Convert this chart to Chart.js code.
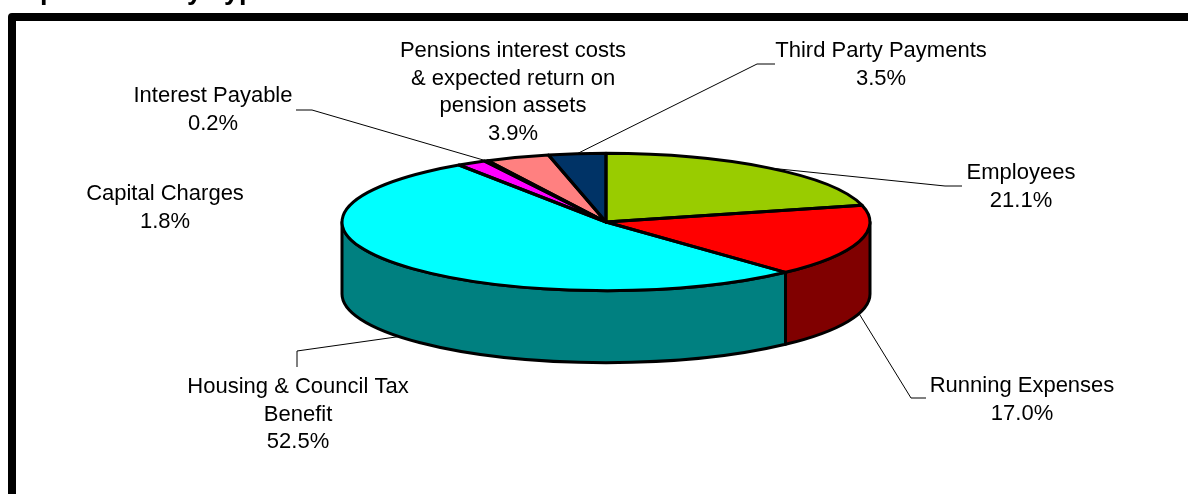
<!DOCTYPE html>
<html>
<head>
<meta charset="utf-8">
<style>
  html, body { margin: 0; padding: 0; background: #fff; overflow: hidden; }
  canvas { display: block; }
</style>
<script src="https://cdn.jsdelivr.net/npm/chart.js@4"></script>
</head>
<body>
<canvas id="pie" width="1188" height="494"></canvas>
<script>
const titleText = 'Expenditure by Type';
const categories = [
  'Employees', 'Running Expenses', 'Housing & Council Tax Benefit', 'Capital Charges',
  'Interest Payable', 'Pensions interest costs & expected return on pension assets',
  'Third Party Payments'
];
const shares = [21.1, 17.0, 52.5, 1.8, 0.2, 3.9, 3.5];

const topColours = ['#99CC00', '#FF0000', '#00FFFF', '#FF00FF', '#FFFF99', '#FF8080', '#003366'];
const wallColours = ['#4C6600', '#800000', '#008080', '#800080', '#808040', '#804040', '#001933'];

// Label placement: wrapped lines, centre x, and the y of each line's baseline.
const labelLines = [
  ['Employees'],
  ['Running Expenses'],
  ['Housing & Council Tax', 'Benefit'],
  ['Capital Charges'],
  ['Interest Payable'],
  ['Pensions interest costs', '& expected return on', 'pension assets'],
  ['Third Party Payments']
];
const labelX = [1021, 1022, 298, 165, 213, 513, 881];
const labelTop = [179, 392, 393, 200, 102, 57, 57];
const lineStep = 27.5;

// Leader elbows: [elbow x, elbow y, end x, end y]; null means the label has no leader.
const leaders = [
  [945, 186, 962, 186],
  [911, 398, 926, 398],
  [297, 351, 297, 367],
  null,
  [312, 110, 296, 110],
  null,
  [757, 64, 775, 64]
];

const PIE_RADIUS = 264;
const SQUASH = 0.26;
const DEPTH = 72;
const OUTLINE = 3;
const FONT = '22px "Liberation Sans", Arial, sans-serif';

const tiltedPie = {
  id: 'tiltedPie',
  beforeDraw(chart) {
    const { ctx } = chart;
    ctx.save();
    // Heavy chart frame, running off the right and bottom of the page.
    ctx.strokeStyle = '#000';
    ctx.lineWidth = 8;
    ctx.lineJoin = 'round';
    ctx.strokeRect(12, 17, 1300, 700);
    ctx.fillStyle = '#000';
    ctx.font = 'bold 27px "Liberation Sans", Arial, sans-serif';
    ctx.textAlign = 'left';
    ctx.textBaseline = 'alphabetic';
    ctx.fillText(titleText, 7, -1);
    ctx.restore();
  },
  beforeDatasetsDraw(chart) {
    const { ctx } = chart;
    const arcs = chart.getDatasetMeta(0).data;
    ctx.save();
    ctx.lineWidth = OUTLINE;
    ctx.strokeStyle = '#000';
    ctx.lineJoin = 'round';
    arcs.forEach((arc, i) => {
      const from = Math.max(arc.startAngle, 0);
      const to = Math.min(arc.endAngle, Math.PI);
      if (to <= from) return;
      const ry = arc.outerRadius * SQUASH;
      ctx.beginPath();
      ctx.ellipse(arc.x, arc.y, arc.outerRadius, ry, 0, from, to);
      ctx.ellipse(arc.x, arc.y + DEPTH, arc.outerRadius, ry, 0, to, from, true);
      ctx.closePath();
      ctx.fillStyle = wallColours[i];
      ctx.fill();
      ctx.stroke();
    });
    ctx.restore();

    // The library's arcs are painted through a vertical squash about the pie centre.
    const { x, y } = arcs[0];
    ctx.save();
    ctx.translate(x, y);
    ctx.scale(1, SQUASH);
    ctx.translate(-x, -y);
  },
  afterDatasetsDraw(chart) {
    const { ctx } = chart;
    ctx.restore();
    const arcs = chart.getDatasetMeta(0).data;

    // Slice outlines are stroked unsquashed so the pen width stays even.
    ctx.save();
    ctx.lineWidth = OUTLINE;
    ctx.strokeStyle = '#000';
    ctx.lineJoin = 'round';
    arcs.forEach((arc) => {
      const ry = arc.outerRadius * SQUASH;
      ctx.beginPath();
      ctx.moveTo(arc.x, arc.y);
      ctx.ellipse(arc.x, arc.y, arc.outerRadius, ry, 0, arc.startAngle, arc.endAngle);
      ctx.closePath();
      ctx.stroke();
    });
    ctx.restore();

    // Leader lines start from the middle of each slice's visible rim.
    ctx.save();
    ctx.lineWidth = 1;
    ctx.strokeStyle = '#000';
    arcs.forEach((arc, i) => {
      const lead = leaders[i];
      if (!lead) return;
      const mid = (arc.startAngle + arc.endAngle) / 2;
      const px = arc.x + arc.outerRadius * Math.cos(mid);
      const sin = Math.sin(mid);
      const py = arc.y + arc.outerRadius * SQUASH * sin + (sin > 0 ? DEPTH : 0);
      ctx.beginPath();
      ctx.moveTo(px, py);
      ctx.lineTo(lead[0], lead[1]);
      ctx.lineTo(lead[2], lead[3]);
      ctx.stroke();
    });
    ctx.restore();

    ctx.save();
    ctx.fillStyle = '#000';
    ctx.font = FONT;
    ctx.textAlign = 'center';
    ctx.textBaseline = 'alphabetic';
    categories.forEach((_, i) => {
      const lines = labelLines[i].concat(shares[i].toFixed(1) + '%');
      lines.forEach((line, n) => {
        ctx.fillText(line, labelX[i], labelTop[i] + n * lineStep);
      });
    });
    ctx.restore();
  }
};

new Chart(document.getElementById('pie'), {
  type: 'pie',
  data: {
    labels: categories,
    datasets: [{
      data: shares,
      backgroundColor: topColours,
      borderWidth: 0,
      radius: PIE_RADIUS,
      clip: false
    }]
  },
  options: {
    responsive: false,
    animation: false,
    layout: { padding: { left: 24, bottom: 50 } },
    plugins: { legend: { display: false }, tooltip: { enabled: false } },
    events: []
  },
  plugins: [tiltedPie]
});
</script>
</body>
</html>
